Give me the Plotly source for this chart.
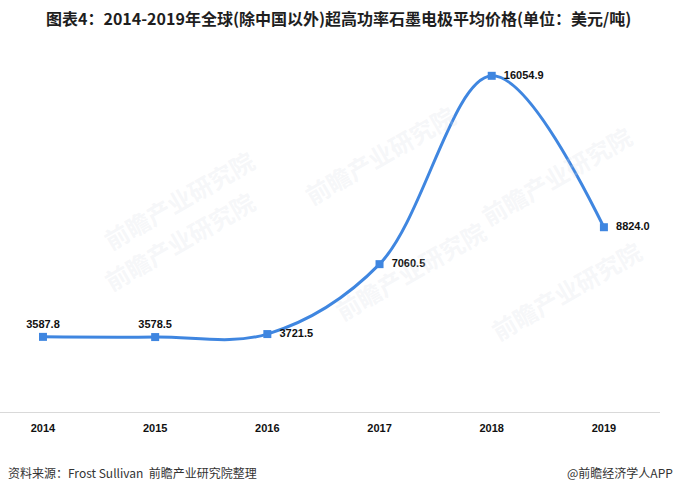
import plotly.graph_objects as go

years = ["2014", "2015", "2016", "2017", "2018", "2019"]
prices = [3587.8, 3578.5, 3721.5, 7060.5, 16054.9, 8824.0]
labels = ["3587.8", "3578.5", "3721.5", "7060.5", "16054.9", "8824.0"]
label_pos = ["top center", "top center", "middle right", "middle right", "middle right", "middle right"]
label_tpl = ["%{text}", "%{text}", "  %{text}", "  %{text}", "  %{text}", "  %{text}"]

title = "图表4：2014-2019年全球(除中国以外)超高功率石墨电极平均价格(单位：美元/吨)"
source = "资料来源：Frost Sullivan  前瞻产业研究院整理"
brand = "@前瞻经济学人APP"

idx = list(range(len(years)))
blue = "#3f86e0"

W, H = 676, 494
PL, PR, PT, PB = 0, 660, 40, 412  # plot area in pixels


def px2paper(px, py):
    return px / (PR - PL), (PB - py) / (PB - PT)


fig = go.Figure()
fig.add_trace(go.Scatter(
    x=idx, y=prices, mode="lines+markers+text",
    line=dict(color=blue, width=3, shape="spline", smoothing=1.0),
    marker=dict(symbol="square", size=8, color=blue),
    text=labels, textposition=label_pos, texttemplate=label_tpl,
    textfont=dict(family="Liberation Sans", size=11, color="#111111", weight="bold"),
    cliponaxis=False, hoverinfo="skip", showlegend=False,
))

# faint watermarks
wm = [(95, 140), (380, 95), (640, 175), (95, 300), (410, 330), (650, 350)]
annos = []
for (px, py) in wm:
    x, y = px2paper(px, py)
    annos.append(dict(x=x, y=y, xref="paper", yref="paper",
                      text="<b>前瞻产业研究院</b>", showarrow=False, textangle=-30,
                      font=dict(family="Noto Sans CJK SC", size=24, color="rgba(215,220,228,0.24)")))

x, y = px2paper(338, 18)
annos.append(dict(x=x, y=y, xref="paper", yref="paper", text="<b>" + title + "</b>",
                  showarrow=False, xanchor="center", yanchor="middle",
                  font=dict(family="Noto Sans CJK SC", size=16, color="#1e1e1e")))
x, y = px2paper(6, 472)
annos.append(dict(x=x, y=y, xref="paper", yref="paper", text=source,
                  showarrow=False, xanchor="left", yanchor="middle",
                  font=dict(family="Noto Sans CJK SC", size=12, color="#333333")))
x, y = px2paper(675, 472)
annos.append(dict(x=x, y=y, xref="paper", yref="paper", text=brand,
                  showarrow=False, xanchor="right", yanchor="middle",
                  font=dict(family="Noto Sans CJK SC", size=12, color="#333333")))

fig.update_layout(
    width=W, height=H,
    margin=dict(l=PL, r=W - PR, t=PT, b=H - PB, pad=0, autoexpand=False),
    paper_bgcolor="white", plot_bgcolor="white",
    annotations=annos,
    xaxis=dict(range=[-0.383, 5.5], tickvals=idx, ticktext=years,
               showgrid=False, zeroline=False, showline=True, linecolor="#d9d9d9", linewidth=1,
               ticks="", ticklabelstandoff=6,
               tickfont=dict(family="Liberation Sans", size=11, color="#111111", weight="bold"),
               fixedrange=True),
    yaxis=dict(range=[0, 17765], visible=False, showgrid=False, zeroline=False, fixedrange=True),
)

fig.write_html(
    "out.html",
    config={"displayModeBar": False, "staticPlot": True},
    post_script="document.body.style.margin='0';document.body.style.padding='0';document.body.style.overflow='hidden';",
)
